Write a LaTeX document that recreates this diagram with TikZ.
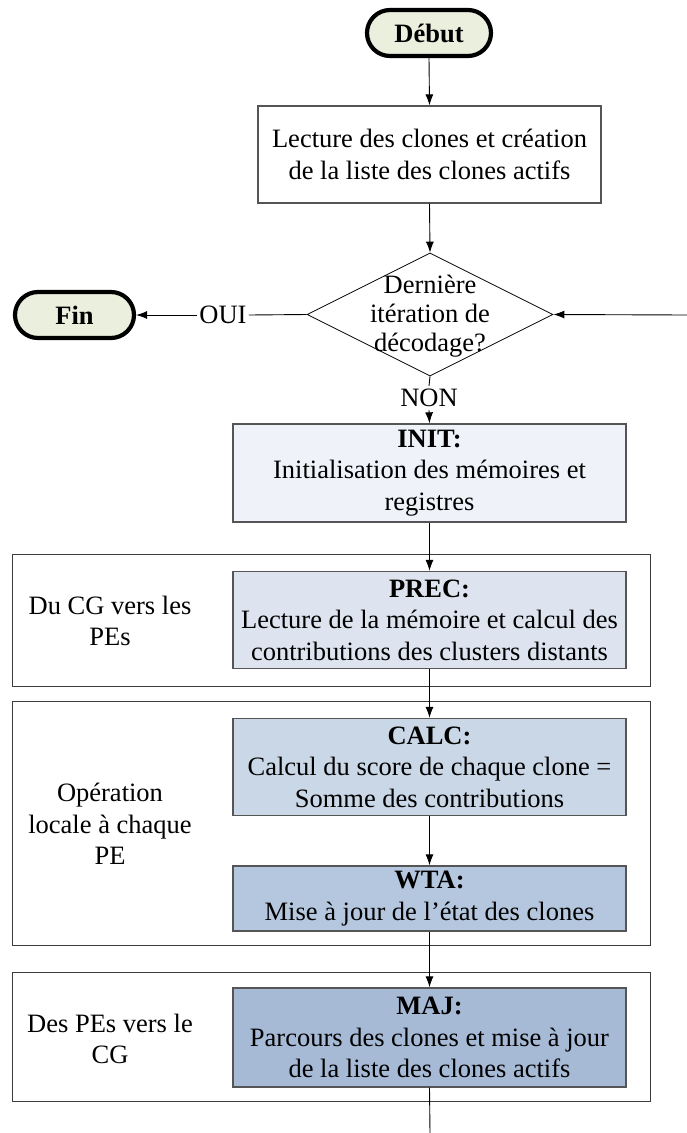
\documentclass[tikz,border=0pt]{standalone}
\usepackage{fontspec}
\setmainfont{Liberation Serif}
\usetikzlibrary{shapes.geometric,arrows.meta}
\definecolor{termfill}{RGB}{235,239,222}
\definecolor{initfill}{RGB}{239,243,249}
\definecolor{precfill}{RGB}{221,228,239}
\definecolor{calcfill}{RGB}{202,215,231}
\definecolor{wtafill}{RGB}{181,199,222}
\definecolor{majfill}{RGB}{166,186,214}
\definecolor{boxline}{RGB}{85,85,85}
\definecolor{grpline}{RGB}{60,60,60}
\tikzset{
  every node/.style={font=\fontsize{26.5}{31.5}\selectfont, inner sep=0pt},
  term/.style={draw=black, line width=4.2pt, rounded corners=23pt, fill=termfill, font=\fontsize{26.5}{31.5}\selectfont\bfseries},
  proc/.style={draw=boxline, line width=1.3pt, align=center},
  grp/.style={draw=grpline, line width=1pt},
  grplabel/.style={align=center},
  decision/.style={diamond, draw=black, line width=0.8pt},
  conn/.style={line width=0.9pt, -{Latex[length=11pt,width=8pt]}},
  plain/.style={line width=0.9pt}
}
\begin{document}
\begin{tikzpicture}[x=1pt,y=-1pt]
\useasboundingbox (0,0) rectangle (687,1133);
% group frames
\node[grp, minimum width=638pt, minimum height=132pt] (g1) at (331,620) {};
\node[grp, minimum width=638pt, minimum height=244pt] (g2) at (331,823) {};
\node[grp, minimum width=638pt, minimum height=129pt] (g3) at (331,1036.5) {};
\node[grplabel] (g1lab) at (110,621) {Du CG vers les\\PEs};
\node[grplabel] (g2lab) at (110,824) {Opération\\locale à chaque\\PE};
\node[grplabel] (g3lab) at (110,1039) {Des PEs vers le\\CG};
% terminals
\node[term, minimum width=124pt, minimum height=46pt] (debut) at (429,33) {Début};
\node[term, minimum width=119pt, minimum height=46pt] (fin) at (74.5,315) {Fin};
% first box
\node[proc, fill=white, minimum width=343pt, minimum height=97pt] (lect) at (429.5,154.5)
  {Lecture des clones et création\\de la liste des clones actifs};
% decision
\node[decision, minimum width=246pt, minimum height=123pt] (dec) at (430,314.5) {};
\node[align=center, font=\fontsize{26.5}{29}\selectfont] (dectext) at (430,316)
  {Dernière\\itération de\\décodage?};
\node[inner sep=3pt] (non) at (429,398) {NON};
\node[inner sep=2pt] (oui) at (223,315) {OUI};
\coordinate (rin) at (687,315);
% process boxes
\node[proc, fill=initfill, minimum width=393pt, minimum height=98pt] (init) at (429.5,473)
  {\textbf{INIT:}\\Initialisation des mémoires et\\registres};
\node[proc, fill=precfill, minimum width=393pt, minimum height=97pt] (prec) at (429.5,620)
  {\textbf{PREC:}\\Lecture de la mémoire et calcul des\\contributions des clusters distants};
\node[proc, fill=calcfill, minimum width=393pt, minimum height=97pt] (calc) at (429.5,767)
  {\textbf{CALC:}\\Calcul du score de chaque clone =\\Somme des contributions};
\node[proc, fill=wtafill, minimum width=393pt, minimum height=65pt] (wta) at (429.5,898.5)
  {\textbf{WTA:}\\Mise à jour de l’état des clones};
\node[proc, fill=majfill, minimum width=393pt, minimum height=99pt] (maj) at (429.5,1037.5)
  {\textbf{MAJ:}\\Parcours des clones et mise à jour\\de la liste des clones actifs};
\coordinate (endpt) at (430,1133);
% connectors
\draw[conn] (debut.south) -- (lect.north);
\draw[conn] (lect.south) -- (dec.north);
\draw[conn] (rin) -- (dec.east);
\draw[plain] (dec.west) -- (oui.east);
\draw[conn] (oui.west) -- (fin.east);
\draw[plain] (dec.south) -- (non.north);
\draw[conn] (non.south) -- (init.north);
\draw[conn] (init.south) -- (prec.north);
\draw[conn] (prec.south) -- (calc.north);
\draw[conn] (calc.south) -- (wta.north);
\draw[conn] (wta.south) -- (maj.north);
\draw[plain] (maj.south) -- (endpt);
\end{tikzpicture}
\end{document}
